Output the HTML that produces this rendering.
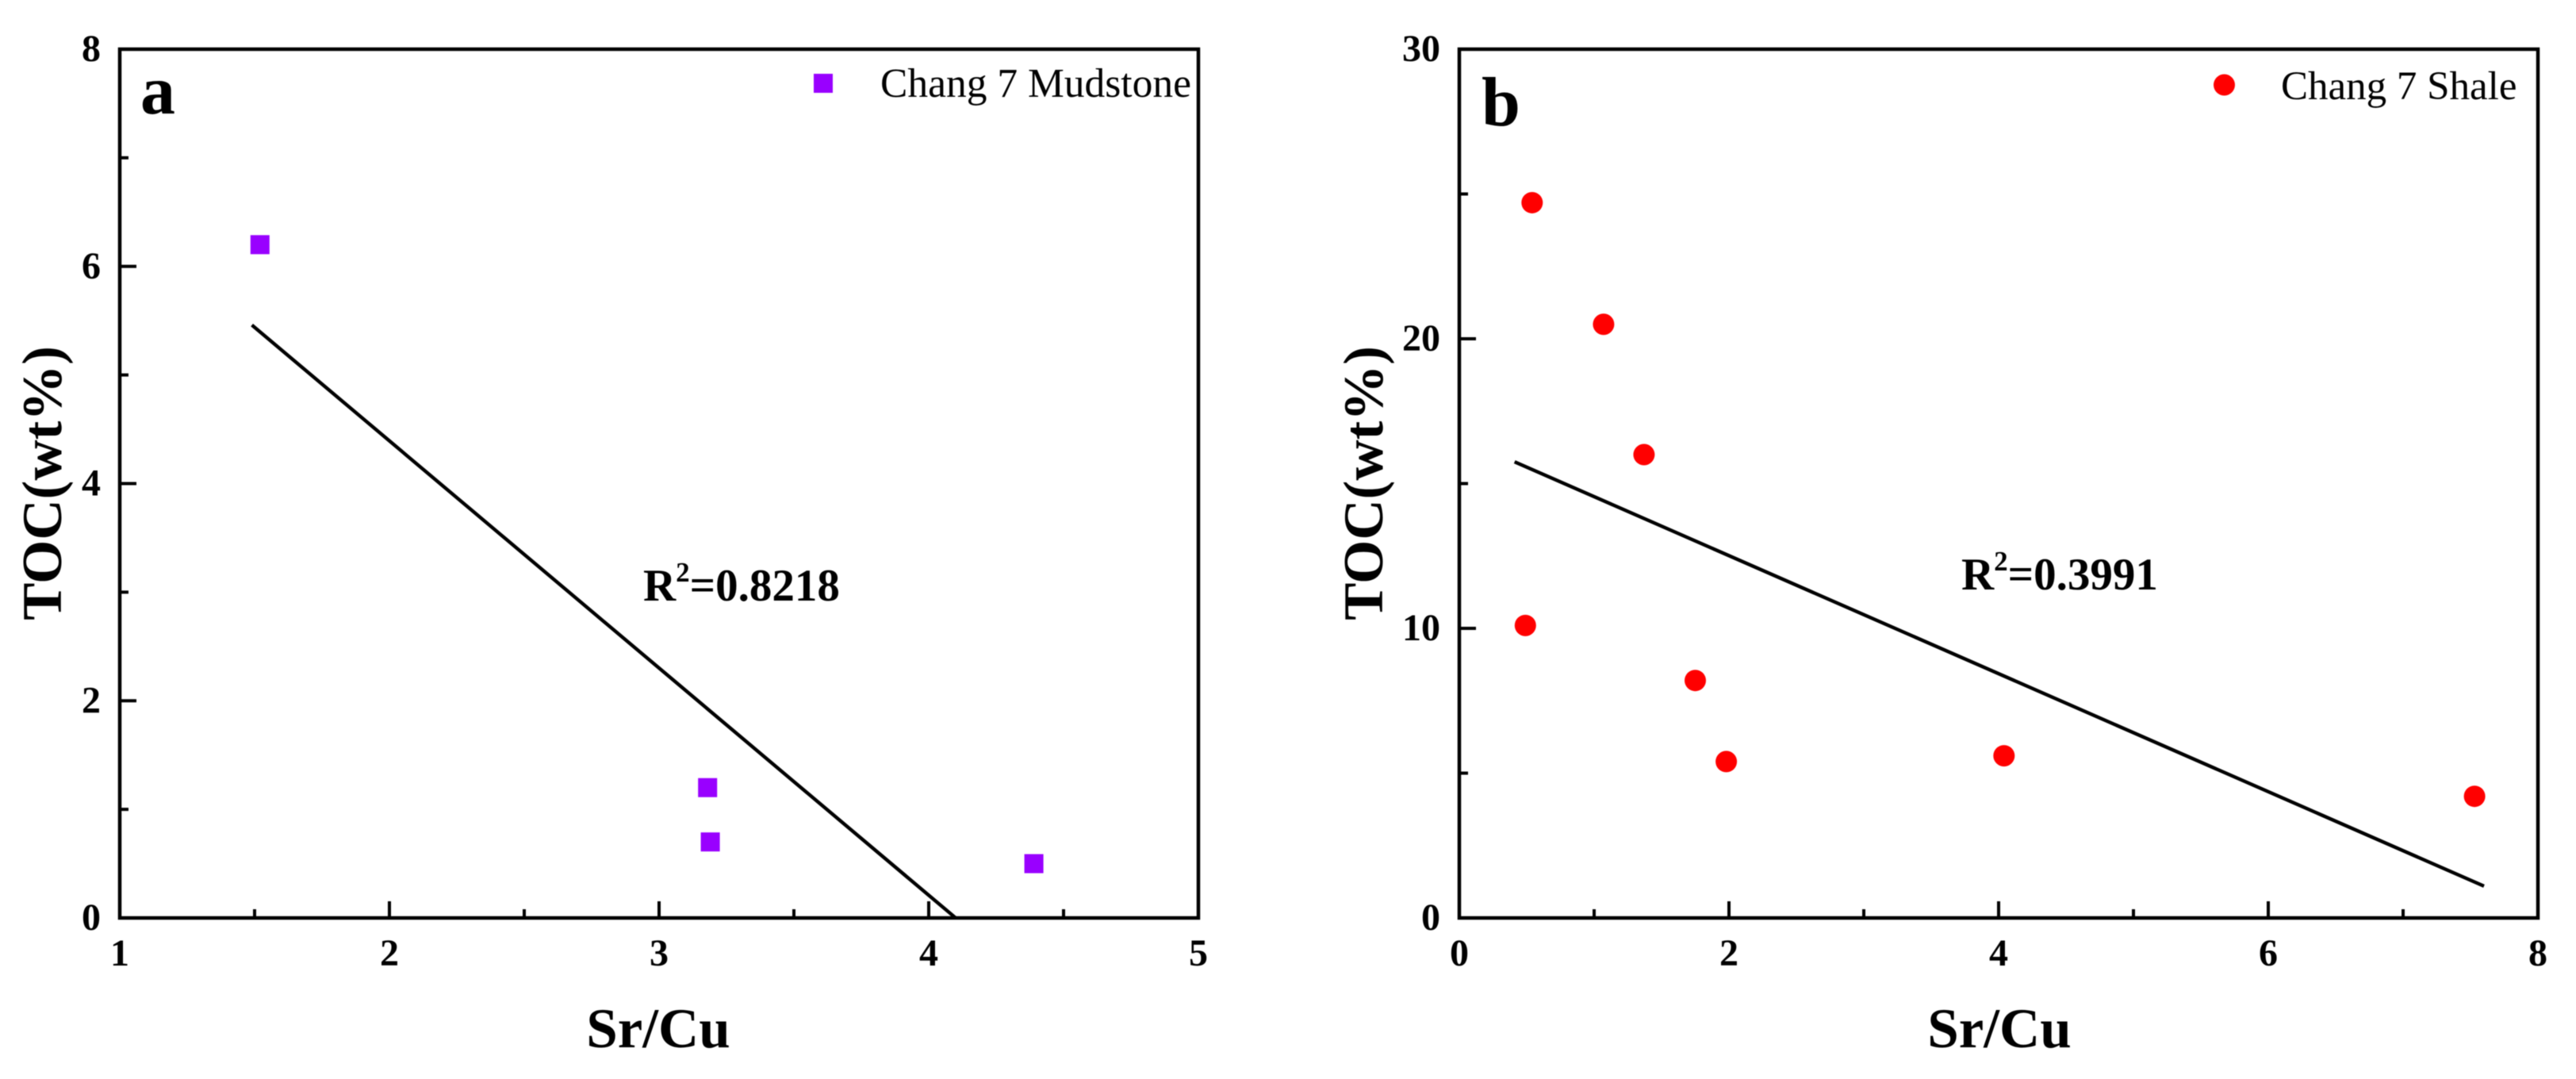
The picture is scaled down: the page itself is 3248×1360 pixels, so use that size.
<!DOCTYPE html>
<html lang="en">
<head>
<meta charset="utf-8">
<title>TOC versus Sr/Cu</title>
<style>
html,body{margin:0;padding:0;background:#fff;width:3248px;height:1360px;overflow:hidden}
svg{display:block;filter:blur(.6px)}
text{font-family:"Liberation Serif",serif;fill:#000}
.b{font-weight:bold}
</style>
</head>
<body>
<svg id="figure" xmlns="http://www.w3.org/2000/svg" width="3248" height="1360" viewBox="0 0 3248 1360">
  <rect x="0" y="0" width="3248" height="1360" fill="#fff"/>
  <g id="panel-a">
    <g id="a-axes"></g>
    <g id="a-marks"></g>
    <text class="b" x="177" y="143" font-size="88">a</text>
    <text class="b" x="830" y="1320" font-size="71" text-anchor="middle">Sr/Cu</text>
    <text class="b" transform="translate(77 609) rotate(-90)" font-size="71" text-anchor="middle">TOC(wt%)</text>
    <text class="b" x="811" y="757" font-size="57">R<tspan font-size="35" dy="-24">2</tspan><tspan dy="24">=0.8218</tspan></text>
    <rect x="1026" y="93" width="24" height="24" fill="#9900ff"/>
    <text x="1110" y="122" font-size="51.5">Chang 7 Mudstone</text>
  </g>
  <g id="panel-b">
    <g id="b-axes"></g>
    <g id="b-marks"></g>
    <text class="b" x="1868" y="158" font-size="88">b</text>
    <text class="b" x="2521" y="1320" font-size="71" text-anchor="middle">Sr/Cu</text>
    <text class="b" transform="translate(1743 609) rotate(-90)" font-size="71" text-anchor="middle">TOC(wt%)</text>
    <text class="b" x="2473" y="743" font-size="57">R<tspan font-size="35" dy="-24">2</tspan><tspan dy="24">=0.3991</tspan></text>
    <circle cx="2804.5" cy="107" r="13.5" fill="#ff0000"/>
    <text x="2876" y="125" font-size="51">Chang 7 Shale</text>
  </g>
</svg>
<script>
// Panel a data
const aXMajor = [1, 2, 3, 4, 5];
const aXMinor = [1.5, 2.5, 3.5, 4.5];
const aYMajor = [0, 2, 4, 6, 8];
const aYMinor = [1, 3, 5, 7];
const aSrCu = [1.52, 3.18, 3.19, 4.39];
const aToc = [6.2, 1.2, 0.7, 0.5];
const aTrendX = [1.49, 4.1];
const aTrendY = [5.46, 0];

// Panel b data
const bXMajor = [0, 2, 4, 6, 8];
const bXMinor = [1, 3, 5, 7];
const bYMajor = [0, 10, 20, 30];
const bYMinor = [5, 15, 25];
const bSrCu = [0.54, 1.07, 1.37, 0.49, 1.75, 1.98, 4.04, 7.53];
const bToc = [24.7, 20.5, 16.0, 10.1, 8.2, 5.4, 5.6, 4.2];
const bTrendX = [0.41, 7.6];
const bTrendY = [15.75, 1.1];

const NS = 'http://www.w3.org/2000/svg';

function make(tag, attrs, parent) {
  const node = document.createElementNS(NS, tag);
  for (const key in attrs) node.setAttribute(key, attrs[key]);
  parent.appendChild(node);
  return node;
}

function drawPanel(p) {
  const sx = v => p.left + (v - p.xMin) / (p.xMax - p.xMin) * (p.right - p.left);
  const sy = v => p.bottom - (v - p.yMin) / (p.yMax - p.yMin) * (p.bottom - p.top);
  const axes = document.getElementById(p.id + '-axes');
  const marks = document.getElementById(p.id + '-marks');

  const frame = make('rect', {x: p.left, y: p.top, width: p.right - p.left, height: p.bottom - p.top, fill: 'none', stroke: '#000', 'stroke-width': 4.5}, axes);
  
  

  p.xMajor.forEach(v => {
    const tick = make('line', {x1: sx(v), x2: sx(v), y1: p.bottom, y2: p.bottom - 21, stroke: '#000', 'stroke-width': 4}, axes);
    
    
    const label = make('text', {x: sx(v), y: 1217, 'font-size': 48, 'text-anchor': 'middle', class: 'b'}, axes);
    label.textContent = String(v);
    
    
  });
  p.xMinor.forEach(v => {
    const tick = make('line', {x1: sx(v), x2: sx(v), y1: p.bottom, y2: p.bottom - 11, stroke: '#000', 'stroke-width': 4}, axes);
    
    
  });
  p.yMajor.forEach(v => {
    const tick = make('line', {x1: p.left, x2: p.left + 21, y1: sy(v), y2: sy(v), stroke: '#000', 'stroke-width': 4}, axes);
    
    
    const label = make('text', {x: p.left - 24, y: sy(v) + 15, 'font-size': 48, 'text-anchor': 'end', class: 'b'}, axes);
    label.textContent = String(v);
    
    
  });
  p.yMinor.forEach(v => {
    const tick = make('line', {x1: p.left, x2: p.left + 11, y1: sy(v), y2: sy(v), stroke: '#000', 'stroke-width': 4}, axes);
    
    
  });

  const trend = make('line', {x1: sx(p.trendX[0]), y1: sy(p.trendY[0]), x2: sx(p.trendX[1]), y2: sy(p.trendY[1]), stroke: '#000', 'stroke-width': 4.4}, marks);
  
  

  p.xs.forEach((x, i) => {
    const y = p.ys[i];
    let mark;
    if (p.shape === 'square') {
      mark = make('rect', {x: sx(x) - 12, y: sy(y) - 12, width: 24, height: 24, fill: p.color}, marks);
    } else {
      mark = make('circle', {cx: sx(x), cy: sy(y), r: 13.5, fill: p.color}, marks);
    }
    
    
  });
}

drawPanel({
  id: 'a', left: 151, right: 1511, top: 62, bottom: 1157,
  xMin: 1, xMax: 5, yMin: 0, yMax: 8,
  xMajor: aXMajor, xMinor: aXMinor, yMajor: aYMajor, yMinor: aYMinor,
  xs: aSrCu, ys: aToc, trendX: aTrendX, trendY: aTrendY,
  shape: 'square', color: '#9900ff'
});
drawPanel({
  id: 'b', left: 1840, right: 3200, top: 62, bottom: 1157,
  xMin: 0, xMax: 8, yMin: 0, yMax: 30,
  xMajor: bXMajor, xMinor: bXMinor, yMajor: bYMajor, yMinor: bYMinor,
  xs: bSrCu, ys: bToc, trendX: bTrendX, trendY: bTrendY,
  shape: 'circle', color: '#ff0000'
});
</script>
</body>
</html>
